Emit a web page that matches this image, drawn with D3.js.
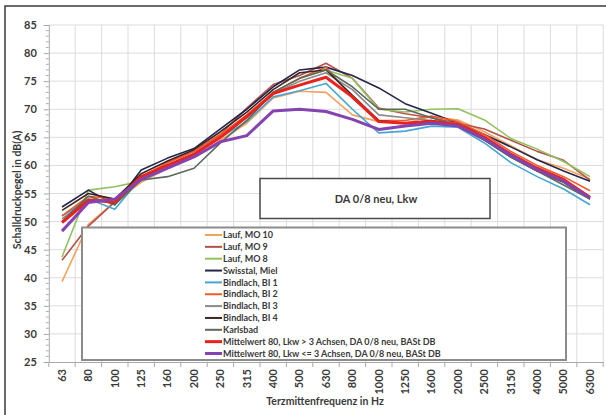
<!DOCTYPE html>
<html><head><meta charset="utf-8">
<script src="https://cdn.jsdelivr.net/npm/d3@7"></script>
<style>body{margin:0;background:#fff}svg{display:block;font-family:Lato,"Open Sans",sans-serif;font-weight:bold}</style>
</head><body><svg id="c" width="606" height="415"></svg>
<script>
const categories = ["63","80","100","125","160","200","250","315","400","500","630","800","1000","1250","1600","2000","2500","3150","4000","5000","6300"];
const yTicks = [25,30,35,40,45,50,55,60,65,70,75,80,85];
const seriesNames = ["Lauf, MO 10","Lauf, MO 9","Lauf, MO 8","Swisstal, Miel","Bindlach, BI 1","Bindlach, BI 2","Bindlach, BI 3","Bindlach, BI 4","Karlsbad","Mittelwert 80, Lkw > 3 Achsen, DA 0/8 neu, BASt DB","Mittelwert 80, Lkw <= 3 Achsen, DA 0/8 neu, BASt DB"];
const mo10     = [39.3,49.5,53.5,57.0,59.5,61.5,64.5,67.5,72.0,73.2,73.0,69.0,67.8,67.5,68.7,68.1,66.0,63.5,61.0,59.5,57.6];
const mo9      = [43.1,49.2,53.5,57.5,60.5,62.5,65.5,70.2,74.4,76.0,78.2,75.5,70.2,69.2,68.5,67.5,66.5,64.5,62.5,60.9,57.4];
const mo8      = [43.7,55.6,56.2,57.2,59.5,62.0,65.0,68.5,73.0,75.5,77.0,75.5,70.0,69.5,70.0,70.1,68.1,64.8,62.9,60.7,58.0];
const swisstal = [52.6,55.6,53.0,59.2,61.3,63.0,66.5,70.0,74.0,77.0,77.5,76.0,73.8,71.0,69.3,67.5,65.5,63.3,61.0,59.0,57.2];
const bi1      = [51.0,54.0,52.2,57.8,60.0,62.0,65.0,67.8,72.2,73.3,74.6,70.0,65.8,66.1,67.0,66.8,64.0,60.5,58.0,55.8,53.0];
const bi2      = [51.0,54.5,54.0,58.0,60.5,62.5,65.5,69.0,73.0,75.5,77.5,72.0,68.0,68.0,68.8,67.8,65.5,62.5,60.0,58.0,55.5];
const bi3      = [50.5,54.0,53.5,58.0,60.0,62.0,65.0,68.5,72.8,75.0,76.5,73.5,69.0,68.5,68.0,67.5,65.0,62.0,59.5,57.5,54.5];
const bi4      = [52.0,55.0,54.0,58.5,60.8,62.8,66.0,69.5,73.5,76.5,77.0,72.5,68.0,67.5,68.0,67.0,64.5,61.5,59.0,57.0,54.0];
const karlsbad = [50.0,54.5,53.0,57.4,58.0,59.5,64.0,68.0,73.0,75.5,77.0,74.0,70.0,70.0,68.5,67.0,64.5,61.5,59.0,56.5,54.0];
const meanGt3  = [49.8,53.8,53.5,58.0,60.0,62.0,65.0,68.7,72.8,74.3,75.7,72.2,67.8,67.5,67.8,67.3,65.0,62.0,59.5,57.5,54.3];
const meanLe3  = [48.3,53.4,54.0,57.5,59.5,61.5,64.2,65.3,69.7,70.0,69.6,68.2,66.4,67.0,67.5,67.0,64.7,61.8,59.2,57.2,54.2];
const seriesValues = [mo10,mo9,mo8,swisstal,bi1,bi2,bi3,bi4,karlsbad,meanGt3,meanLe3];
const colors = ["#f4a25e","#b5514a","#93c15f","#23254a","#45a6d3","#f05a28","#8a8a8a","#3e2424","#5b6a5a","#e8231f","#8443b0"];
const widths = [1.6,1.6,1.6,1.6,1.6,1.6,1.6,1.6,1.6,3,3];

const svg = d3.select("#c");
const L=48.8,R=603.2,T=25,B=362;
const x = d3.scaleBand().domain(categories).range([L,R]).padding(0);
const y = d3.scaleLinear().domain([25,85]).range([B,T]);

// outer frame
svg.append("rect").attr("x",5).attr("y",6).attr("width",640).attr("height",440)
  .attr("fill","none").attr("stroke","#3a3a3a").attr("stroke-width",1.5);

// grid
const g = svg.append("g");
yTicks.forEach(t=>{ if(t>25) g.append("line").attr("x1",L).attr("x2",R).attr("y1",y(t)).attr("y2",y(t)).attr("stroke","#dcdcdc").attr("stroke-width",1); });
categories.forEach((c,i)=>{ const xx=x(c)+x.bandwidth(); g.append("line").attr("x1",xx).attr("x2",xx).attr("y1",T).attr("y2",B).attr("stroke","#dcdcdc").attr("stroke-width",1); });

// y axis
const ya = svg.append("g").attr("transform",`translate(${L},0)`)
  .call(d3.axisLeft(y).tickValues(yTicks).tickSize(5).tickPadding(7));
ya.select(".domain").attr("stroke","#a8a8a8");
ya.selectAll(".tick line").attr("stroke","#a8a8a8");
ya.selectAll(".tick text").attr("font-size",11).attr("fill","#3a3a3a").attr("font-family","Lato").attr("font-weight","bold");
const minor = d3.range(25,86,1).filter(v=>v%5!==0);
svg.append("g").selectAll("line").data(minor).join("line")
  .attr("x1",L-3).attr("x2",L).attr("y1",d=>y(d)).attr("y2",d=>y(d)).attr("stroke","#b0b0b0");

// x axis
const xa = svg.append("g").attr("transform",`translate(0,${B})`)
  .call(d3.axisBottom(x).tickSize(0).tickPadding(0));
xa.select(".domain").attr("stroke","#a8a8a8");
xa.selectAll(".tick text").attr("font-size",11).attr("fill","#3a3a3a").attr("font-family","Lato").attr("font-weight","bold")
  .attr("transform","rotate(-90)").attr("text-anchor","end").attr("x",-7).attr("y",0).attr("dy","0.35em");
categories.forEach(c=>{ const xx=x(c)+x.bandwidth(); svg.append("line").attr("x1",xx).attr("x2",xx).attr("y1",B).attr("y2",B+5).attr("stroke","#a8a8a8"); });
svg.append("line").attr("x1",L).attr("x2",L).attr("y1",B).attr("y2",B+5).attr("stroke","#a8a8a8");

// axis titles
svg.append("text").attr("transform","translate(21,190) rotate(-90)").attr("text-anchor","middle")
  .attr("font-size",10.5).attr("fill","#3a3a3a").text("Schalldruckpegel in dB(A)");
svg.append("text").attr("x",325).attr("y",405).attr("text-anchor","middle")
  .attr("font-size",10.5).attr("fill","#3a3a3a").text("Terzmittenfrequenz in Hz");

// lines
const line = d3.line().x((d,i)=>x(categories[i])+x.bandwidth()/2).y(d=>y(d));
seriesValues.forEach((vals,k)=>{
  svg.append("path").datum(vals).attr("d",line).attr("fill","none")
    .attr("stroke",colors[k]).attr("stroke-width",widths[k]).attr("stroke-linejoin","round");
});

// title box
svg.append("rect").attr("x",260).attr("y",178.5).attr("width",230).attr("height",40)
  .attr("fill","#fff").attr("stroke","#4a4a4a").attr("stroke-width",1.5);
svg.append("text").attr("x",376).attr("y",202.5).attr("text-anchor","middle")
  .attr("font-size",11).attr("fill","#3a3a3a").text("DA 0/8 neu, Lkw");

// legend box
svg.append("rect").attr("x",82).attr("y",227.5).attr("width",484).attr("height",132.5)
  .attr("fill","#fff").attr("stroke","#8c8c8c").attr("stroke-width",2);
const lg = svg.append("g");
seriesNames.forEach((n,k)=>{
  const yy = 235 + k*11.85;
  lg.append("line").attr("x1",205).attr("x2",222).attr("y1",yy).attr("y2",yy)
    .attr("stroke",colors[k]).attr("stroke-width",widths[k]===3?3:2);
  lg.append("text").attr("x",223).attr("y",yy).attr("dy","0.35em")
    .attr("font-size",9).attr("fill","#3a3a3a").text(n);
});
</script></body></html>
